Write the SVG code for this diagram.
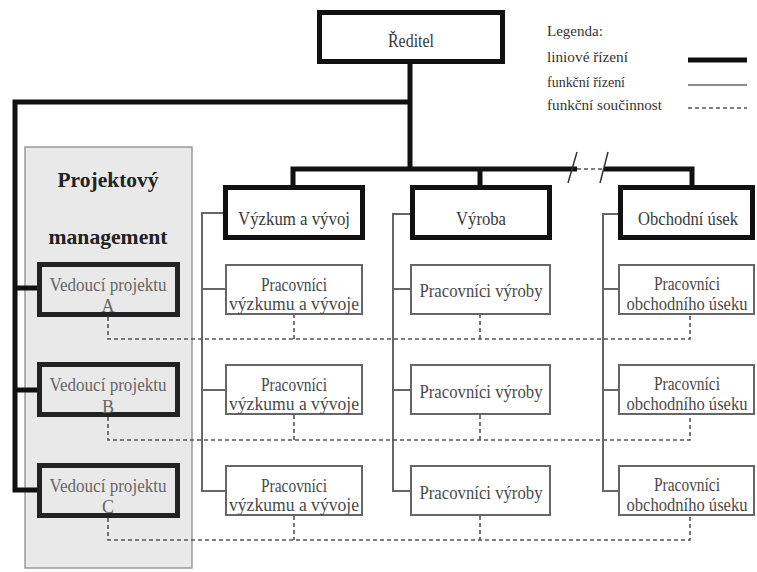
<svg xmlns="http://www.w3.org/2000/svg" width="757" height="572" viewBox="0 0 757 572">
<style>
text{font-family:"Liberation Serif","Times New Roman",serif;text-anchor:middle}
.thick{fill:#fff;stroke:#111;stroke-width:5}
.lead{fill:none;stroke:#222;stroke-width:5}
.work{fill:#fff;stroke:#666;stroke-width:2}
.line{fill:none;stroke:#111;stroke-width:5;stroke-linejoin:miter}
.fline{fill:none;stroke:#666;stroke-width:2}
.dline{fill:none;stroke:#555;stroke-width:1.6;stroke-dasharray:4 3}
.hd{font-size:18px;fill:#3a3a3a}
.wk{font-size:18px;fill:#4a4a4a}
.ld{font-size:18px;fill:#666}
.pm{font-size:22px;font-weight:bold;fill:#222}
.lg{font-size:15px;fill:#333;text-anchor:start}
</style>
<rect width="757" height="572" fill="#fff"/>

<g id="projekt-management">
<rect x="25" y="147" width="167" height="421" fill="#e9e9e9" stroke="#9a9a9a" stroke-width="1.5"/>
<text class="pm" x="108" y="187" textLength="101" lengthAdjust="spacingAndGlyphs">Projektový</text>
<text class="pm" x="108" y="244" textLength="119" lengthAdjust="spacingAndGlyphs">management</text>
</g>

<g id="connectors">
<path class="line" d="M410 64 V169 M410 102 H15 V490 H37 M15 288 H37 M15 390 H37"/>
<path class="line" d="M293 187 V169 H577 M604 169 H692 V187 M480 169 V187"/>
<path class="dline" d="M577 169 H604" stroke-width="2"/>
<path d="M577 152 L568 183 M608 152 L600 183" stroke="#333" stroke-width="1.5" fill="none"/>
<path class="fline" d="M225 213 H202 V491 H226 M202 289 H226 M202 390 H226"/>
<path class="fline" d="M412 214 H393 V491 H411 M393 289 H411 M393 390 H411"/>
<path class="fline" d="M620 214 H603 V491 H619 M603 289 H619 M603 390 H619"/>
<path class="dline" d="M108 317 V339 H690 V314 M294 314 V339 M480 314 V339"/>
<path class="dline" d="M108 417 V440 H690 V415 M294 415 V440 M480 415 V440"/>
<path class="dline" d="M108 518 V540 H690 V516 M294 516 V540 M480 516 V540"/>
</g>

<g id="reditel">
<rect class="thick" x="319.5" y="12.5" width="183" height="49"/>
<text class="hd" x="411" y="47" textLength="46" lengthAdjust="spacingAndGlyphs">Ředitel</text>
</g>

<g id="legenda">
<text class="lg" x="547" y="36">Legenda:</text>
<text class="lg" x="547" y="62" textLength="81" lengthAdjust="spacingAndGlyphs">liniové řízení</text>
<text class="lg" x="547" y="87" textLength="78" lengthAdjust="spacingAndGlyphs">funkční řízení</text>
<text class="lg" x="547" y="110" textLength="115" lengthAdjust="spacingAndGlyphs">funkční součinnost</text>
<path d="M688 60 H747" stroke="#111" stroke-width="5"/>
<path d="M688 85 H747" stroke="#666" stroke-width="1.6"/>
<path d="M688 108 H747" stroke="#555" stroke-width="1.6" stroke-dasharray="4 3"/>
</g>

<g id="vyzkum">
<rect class="thick" x="225.5" y="187.5" width="137" height="50"/>
<text class="hd" x="294" y="225" textLength="112" lengthAdjust="spacingAndGlyphs">Výzkum a vývoj</text>
</g>
<g id="vyroba">
<rect class="thick" x="412.5" y="187.5" width="137" height="50"/>
<text class="hd" x="481" y="225" textLength="50" lengthAdjust="spacingAndGlyphs">Výroba</text>
</g>
<g id="obchodni">
<rect class="thick" x="620.5" y="187.5" width="132" height="50"/>
<text class="hd" x="688" y="225" textLength="100" lengthAdjust="spacingAndGlyphs">Obchodní úsek</text>
</g>

<g id="vedouci-a">
<rect class="lead" x="39.5" y="264.5" width="138" height="50"/>
<text class="ld" x="108" y="291" textLength="117" lengthAdjust="spacingAndGlyphs">Vedoucí projektu</text>
<text class="ld" x="108" y="312">A</text>
</g>
<g id="vedouci-b">
<rect class="lead" x="39.5" y="364.5" width="138" height="50"/>
<text class="ld" x="108" y="391" textLength="117" lengthAdjust="spacingAndGlyphs">Vedoucí projektu</text>
<text class="ld" x="108" y="413">B</text>
</g>
<g id="vedouci-c">
<rect class="lead" x="39.5" y="465.5" width="138" height="50"/>
<text class="ld" x="108" y="492" textLength="117" lengthAdjust="spacingAndGlyphs">Vedoucí projektu</text>
<text class="ld" x="108" y="513">C</text>
</g>

<g id="vyzkum-1">
<rect class="work" x="226" y="265" width="136" height="49"/>
<text class="wk" x="294" y="291" textLength="66" lengthAdjust="spacingAndGlyphs">Pracovníci</text>
<text class="wk" x="294" y="310" textLength="130" lengthAdjust="spacingAndGlyphs">výzkumu a vývoje</text>
</g>
<g id="vyzkum-2">
<rect class="work" x="226" y="365" width="136" height="49"/>
<text class="wk" x="294" y="391" textLength="66" lengthAdjust="spacingAndGlyphs">Pracovníci</text>
<text class="wk" x="294" y="410" textLength="130" lengthAdjust="spacingAndGlyphs">výzkumu a vývoje</text>
</g>
<g id="vyzkum-3">
<rect class="work" x="226" y="466" width="136" height="49"/>
<text class="wk" x="294" y="492" textLength="66" lengthAdjust="spacingAndGlyphs">Pracovníci</text>
<text class="wk" x="294" y="511" textLength="130" lengthAdjust="spacingAndGlyphs">výzkumu a vývoje</text>
</g>

<g id="vyroba-1">
<rect class="work" x="411" y="265" width="139" height="49"/>
<text class="wk" x="481" y="297" textLength="123" lengthAdjust="spacingAndGlyphs">Pracovníci výroby</text>
</g>
<g id="vyroba-2">
<rect class="work" x="411" y="365" width="139" height="49"/>
<text class="wk" x="481" y="398" textLength="123" lengthAdjust="spacingAndGlyphs">Pracovníci výroby</text>
</g>
<g id="vyroba-3">
<rect class="work" x="411" y="466" width="139" height="49"/>
<text class="wk" x="481" y="499" textLength="123" lengthAdjust="spacingAndGlyphs">Pracovníci výroby</text>
</g>

<g id="obchod-1">
<rect class="work" x="619" y="265" width="135" height="49"/>
<text class="wk" x="687" y="290" textLength="66" lengthAdjust="spacingAndGlyphs">Pracovníci</text>
<text class="wk" x="687" y="310" textLength="121" lengthAdjust="spacingAndGlyphs">obchodního úseku</text>
</g>
<g id="obchod-2">
<rect class="work" x="619" y="365" width="135" height="49"/>
<text class="wk" x="687" y="390" textLength="66" lengthAdjust="spacingAndGlyphs">Pracovníci</text>
<text class="wk" x="687" y="410" textLength="121" lengthAdjust="spacingAndGlyphs">obchodního úseku</text>
</g>
<g id="obchod-3">
<rect class="work" x="619" y="466" width="135" height="49"/>
<text class="wk" x="687" y="491" textLength="66" lengthAdjust="spacingAndGlyphs">Pracovníci</text>
<text class="wk" x="687" y="511" textLength="121" lengthAdjust="spacingAndGlyphs">obchodního úseku</text>
</g>
</svg>
